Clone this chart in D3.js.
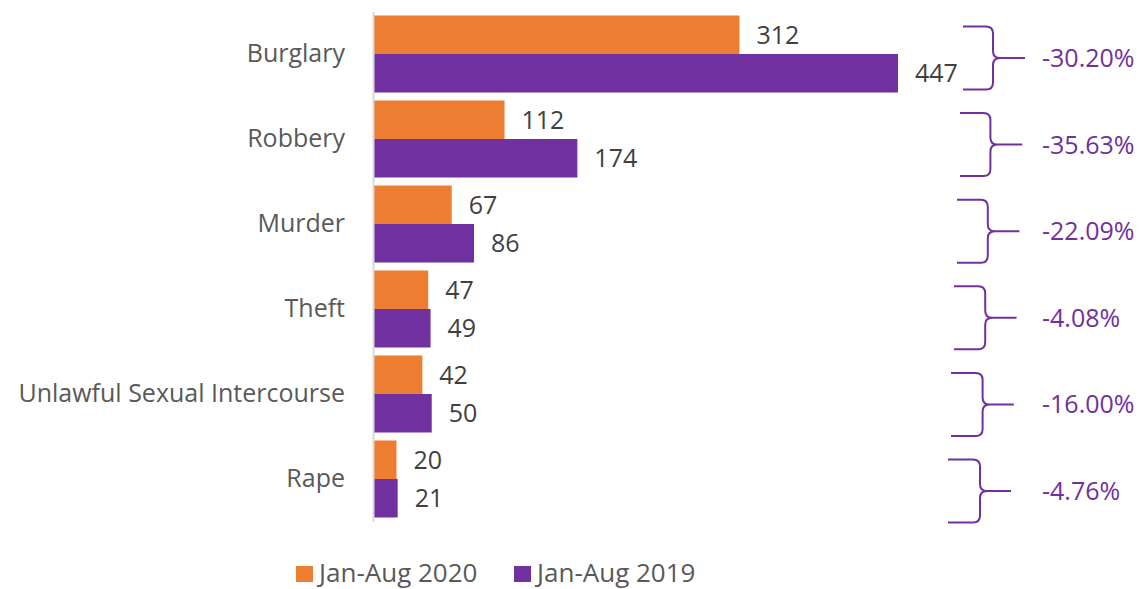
<!DOCTYPE html>
<html>
<head>
<meta charset="utf-8">
<script src="https://cdn.jsdelivr.net/npm/d3@7"></script>
<style>
  body { margin: 0; background: #fff; }
  svg { display: block; font-family: "Open Sans", sans-serif; }
</style>
</head>
<body>
<svg></svg>
<script>
let categories = ['Burglary', 'Robbery', 'Murder', 'Theft', 'Unlawful Sexual Intercourse', 'Rape']
let values2020 = [312, 112, 67, 47, 42, 20]
let values2019 = [447, 174, 86, 49, 50, 21]
let seriesNames = ['Jan-Aug 2020', 'Jan-Aug 2019']

let w = 1140
let h = 589
let colors = ['#ED7D31', '#7030A0']

let svg = d3.select('svg').attr('width', w).attr('height', h)

// scales
let xScale = d3.scaleLinear()
               .domain([0, 500])
               .range([373, 373 + 500 * 1.1745])

let yScale = d3.scaleBand()
               .domain(categories)
               .range([11.5, 521.5])
               .paddingInner(0.094)
               .paddingOuter(0.047)

let subScale = d3.scaleBand()
                 .domain([0, 1])
                 .range([0, yScale.bandwidth()])

let rows = categories.map((c, i) => ({cat: c, vals: [values2020[i], values2019[i]], i: i}))

// bars
let groups = svg.selectAll('g.row')
                .data(rows)
                .enter()
                .append('g')
                .attr('class', 'row')
                .attr('transform', d => 'translate(0,' + yScale(d.cat) + ')')

groups.selectAll('rect')
      .data(d => d.vals)
      .enter()
      .append('rect')
      .attr('x', xScale(0))
      .attr('y', (v, k) => subScale(k))
      .attr('width', v => xScale(v) - xScale(0))
      .attr('height', subScale.bandwidth())
      .attr('fill', (v, k) => colors[k])

// value labels
groups.selectAll('text.val')
      .data(d => d.vals)
      .enter()
      .append('text')
      .attr('class', 'val')
      .attr('x', v => xScale(v) + 17)
      .attr('y', (v, k) => subScale(k) + subScale.bandwidth() / 2)
      .attr('dy', '0.36em')
      .attr('font-size', 25)
      .attr('fill', '#404040')
      .text(v => v)

// category axis
let yAxis = d3.axisLeft(yScale).tickSize(0).tickPadding(28)
let axisG = svg.append('g')
               .attr('transform', 'translate(' + xScale(0) + ',0)')
               .call(yAxis)
axisG.select('.domain').attr('stroke', '#d9d9d9').attr('stroke-width', 2)
axisG.selectAll('text')
     .attr('font-size', 25)
     .attr('font-family', '"Open Sans", sans-serif')
     .attr('fill', '#595959')

// braces with percent change
let brace = svg.selectAll('g.brace')
               .data(rows)
               .enter()
               .append('g')
               .attr('class', 'brace')

let braceMid = d => yScale(d.cat) + yScale.bandwidth() / 2 + 4 + 1.6 * d.i

brace.append('path')
     .attr('fill', 'none')
     .attr('stroke', '#7030A0')
     .attr('stroke-width', 2)
     .attr('d', d => {
        let mid = braceMid(d)
        let top = mid - 31.5
        let bot = mid + 31.5
        let L = 963 - 3 * d.i
        let V = 993 - 2.6 * d.i
        let T = 1025 - 2.8 * d.i
        let r = 7
        return 'M' + L + ',' + top +
               ' L' + (V - r) + ',' + top +
               ' Q' + V + ',' + top + ' ' + V + ',' + (top + r) +
               ' L' + V + ',' + (mid - r) +
               ' Q' + V + ',' + mid + ' ' + (V + r) + ',' + mid +
               ' L' + T + ',' + mid +
               ' M' + (V + r) + ',' + mid +
               ' Q' + V + ',' + mid + ' ' + V + ',' + (mid + r) +
               ' L' + V + ',' + (bot - r) +
               ' Q' + V + ',' + bot + ' ' + (V - r) + ',' + bot +
               ' L' + L + ',' + bot
     })

brace.append('text')
     .attr('x', 1042)
     .attr('y', d => braceMid(d))
     .attr('dy', '0.36em')
     .attr('font-size', 25)
     .attr('fill', '#7030A0')
     .text(d => d3.format('.2%')((d.vals[0] - d.vals[1]) / d.vals[1]).replace('−', '-'))

// legend
let legend = svg.append('g')
let lx = [296, 514]
seriesNames.forEach((s, k) => {
    legend.append('rect')
          .attr('x', lx[k]).attr('y', 566)
          .attr('width', 17).attr('height', 16)
          .attr('fill', colors[k])
    legend.append('text')
          .attr('x', lx[k] + 23).attr('y', 573)
          .attr('dy', '0.36em')
          .attr('font-size', 26)
          .attr('fill', '#595959')
          .text(s)
})
</script>
</body>
</html>
